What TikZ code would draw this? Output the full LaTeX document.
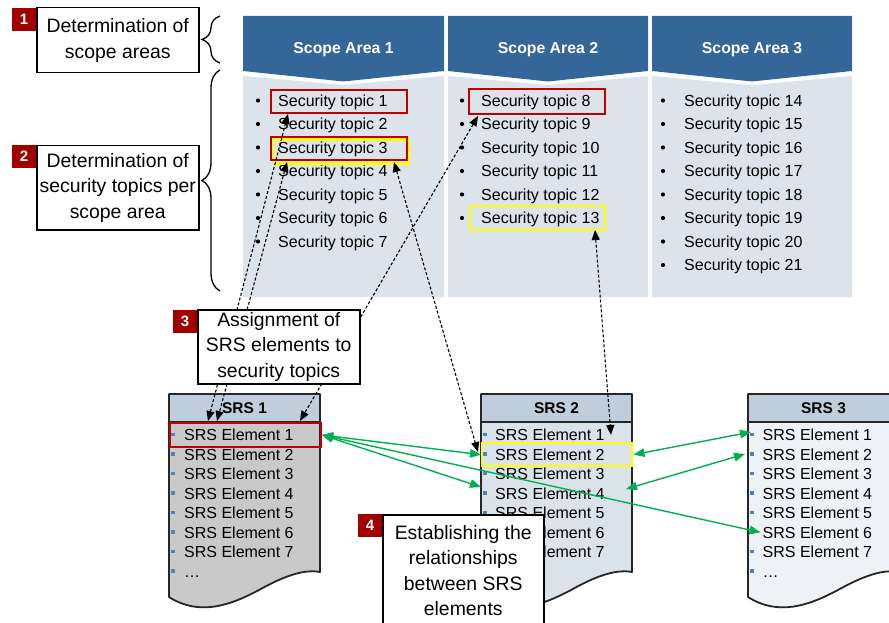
\documentclass[tikz,border=0pt]{standalone}
\usepackage{fontspec}
\setmainfont{Liberation Sans}
\usetikzlibrary{arrows.meta,decorations.pathreplacing}

\definecolor{scopeblue}{HTML}{35669A}
\definecolor{scopebody}{HTML}{DDE3EA}
\definecolor{hlred}{HTML}{C00000}
\definecolor{tagred}{HTML}{A00000}
\definecolor{hlyellow}{HTML}{FFFF00}
\definecolor{linkgreen}{HTML}{00B050}
\definecolor{srshead}{HTML}{C0CDDA}
\definecolor{srsgray}{HTML}{C9C9C9}
\definecolor{srsblue}{HTML}{DAE2EA}
\definecolor{srspale}{HTML}{EEF2F6}
\definecolor{srsbullet}{HTML}{4F81BD}

% one SRS document: header band, body with wavy bottom edge
\newcommand\srsdocument[2]{%
  \begin{scope}[shift={(#1,394)}]
    \fill[#2] (0,28) -- (151,28) -- (151,178)
      .. controls (135,175) and (115,182) .. (90,196)
      .. controls (60,212) and (30,222) .. (0,203) -- cycle;
    \fill[srshead] (0,0) rectangle (151,28);
    \draw[line width=1.8pt, line join=round, draw=black!85] (0,0) -- (151,0) -- (151,178)
      .. controls (135,175) and (115,182) .. (90,196)
      .. controls (60,212) and (30,222) .. (0,203) -- cycle;
    \draw[line width=1.8pt, draw=black!85] (0,28) -- (151,28);
  \end{scope}}

\begin{document}
\begin{tikzpicture}[x=1pt,y=-1pt,
  topic/.style={anchor=base west, inner sep=0pt, font=\fontsize{16}{19}\selectfont},
  elem/.style={anchor=base west, inner sep=0pt, font=\fontsize{16}{19}\selectfont},
  headtext/.style={anchor=base, inner sep=0pt, text=white, font=\bfseries\fontsize{15.8}{19}\selectfont},
  srstitle/.style={anchor=base, inner sep=0pt, font=\bfseries\fontsize{15.5}{19}\selectfont},
  labelbox/.style={draw=black, line width=1.5pt, fill=white, align=center, inner sep=0pt,
    anchor=north west, font=\fontsize{19.4}{25.5}\selectfont},
  tag/.style={fill=tagred, text=white, inner sep=0pt, minimum width=23.5pt, minimum height=23pt,
    anchor=north east, font=\bfseries\fontsize{15}{15}\selectfont},
  redhl/.style={draw=hlred, line width=2pt, inner sep=0pt, anchor=north west},
  yellowhl/.style={draw=hlyellow, line width=2.4pt, inner sep=0pt, anchor=north west},
  assign/.style={draw=black, line width=1.1pt, dash pattern=on 3pt off 2pt,
    {Triangle[length=10pt,width=8pt]}-{Triangle[length=10pt,width=8pt]}},
  relate/.style={draw=linkgreen, line width=1.4pt,
    {Triangle[length=11pt,width=8.5pt]}-{Triangle[length=11pt,width=8.5pt]}},
  bracemark/.style={draw=black, line width=1.3pt, decorate,
    decoration={brace, amplitude=18pt, aspect=0.5}}
]
\useasboundingbox (0,0) rectangle (889,623);

% ---- scope area columns ----
\foreach \xl/\xm/\xr/\k in {243/343.5/444/1, 448/548/648/2, 652/752/852/3} {
  \fill[scopeblue] (\xl,16) -- (\xr,16) -- (\xr,71) -- (\xm,81.5) -- (\xl,71) -- cycle;
  \fill[scopebody] (\xl,76) -- (\xm,85) -- (\xr,76) -- (\xr,297) -- (\xl,297) -- cycle;
  \node[headtext] (area\k) at (\xm,53.3) {Scope Area \k};
}

% ---- security topics ----
\foreach \n [count=\r from 0] in {1,...,7} {
  \fill (258,{100.5+23.5*\r}) circle[radius=2.1pt];
  \node[topic] (t\n) at (278,{106.3+23.5*\r}) {Security topic \n};
}
\foreach \n [count=\r from 0] in {8,...,13} {
  \fill (462,{100.5+23.5*\r}) circle[radius=2.1pt];
  \node[topic] (t\n) at (481,{106.3+23.5*\r}) {Security topic \n};
}
\foreach \n [count=\r from 0] in {14,...,21} {
  \fill (663,{100.5+23.5*\r}) circle[radius=2.1pt];
  \node[topic] (t\n) at (684,{106.3+23.5*\r}) {Security topic \n};
}

% highlighted topics
\node[yellowhl, minimum width=135pt, minimum height=24pt] (hl3y) at (273,138.5) {};
\node[redhl, minimum width=136pt, minimum height=23pt] (hl1) at (270,89.5) {};
\node[redhl, minimum width=136pt, minimum height=23pt] (hl3r) at (270,136) {};
\node[redhl, minimum width=136pt, minimum height=25pt] (hl8) at (468,88) {};
\node[yellowhl, minimum width=135pt, minimum height=24pt] (hl13) at (469,205) {};

% ---- SRS documents ----
\srsdocument{169}{srsgray}
\srsdocument{481}{srsblue}
\srsdocument{748}{srspale}
\node[srstitle] (srs1) at (244.5,413.6) {SRS 1};
\node[srstitle] (srs2) at (556.5,413.6) {SRS 2};
\node[srstitle] (srs3) at (823.5,413.6) {SRS 3};

\foreach \s/\bx/\tx in {1/173/184, 2/485/495, 3/752/762.5} {
  \foreach \i in {1,...,7} {
    \fill[srsbullet] (\bx,{434.3+19.5*(\i-1)}) ++(-1.8,-1.8) rectangle ++(3.6,3.6);
    \node[elem] (s\s e\i) at (\tx,{440.6+19.5*(\i-1)}) {SRS Element \i};
  }
}
\foreach \s/\bx/\tx in {1/173/184, 3/752/762.5} {
  \fill[srsbullet] (\bx,570.8) ++(-1.8,-1.8) rectangle ++(3.6,3.6);
  \node[elem] (s\s more) at (\tx,577) {\ldots};
}

% highlighted SRS elements
\node[redhl, minimum width=151pt, minimum height=24pt] (s1hl) at (169,422) {};
\node[yellowhl, minimum width=150pt, minimum height=23pt] (s2hl) at (481,442) {};

% ---- assignment links (dashed) ----
\coordinate (hl1foot) at (288,114);
\coordinate (hl3foot) at (287,162);
\coordinate (hl3tail) at (394,162);
\coordinate (hl8foot) at (478,116);
\coordinate (hl13foot) at (595,230);
\coordinate (srs1inA) at (208,421);
\coordinate (srs1inB) at (217,421);
\coordinate (srs1inC) at (300,421);
\coordinate (srs2inA) at (478,452);
\coordinate (srs2inB) at (611,435);
\draw[assign] (hl1foot) -- (srs1inA);
\draw[assign] (hl3foot) -- (srs1inB);
\draw[assign] (hl8foot) -- (srs1inC);
\draw[assign] (hl3tail) -- (srs2inA);
\draw[assign] (hl13foot) -- (srs2inB);

% ---- step labels 1-3 ----
\node[labelbox, minimum width=162pt, minimum height=65pt] (step1) at (36,7) {Determination of\\scope areas};
\node[tag] (tag1) at (36,8) {1};
\node[labelbox, minimum width=162pt, minimum height=84pt] (step2) at (36,145) {Determination of\\security topics per\\scope area};
\node[tag] (tag2) at (36,145) {2};
\node[labelbox, minimum width=162pt, minimum height=74pt] (step3) at (197,309) {Assignment of\\SRS elements to\\security topics};
\node[tag] (tag3) at (197,309.5) {3};

\draw[bracemark] (220,63) -- (220,16);
\draw[bracemark] (220,291) -- (220,70);

% ---- relationships between SRS elements ----
\coordinate (s2e4in) at (481,487);
\coordinate (s3e1in) at (751,432);
\coordinate (s2e4out) at (626,489);
\coordinate (s3e2in) at (745,454);
\draw[relate] (s1hl.east) -- (s2hl.west);
\draw[relate] (s1hl.east) -- (s2e4in);
\draw[relate] (s1hl.east) -- ([xshift=-2pt]s3e6.west);
\draw[relate] (s2hl.east) -- (s3e1in);
\draw[relate] (s2e4out) -- (s3e2in);

% ---- step label 4 ----
\node[labelbox, minimum width=161pt, minimum height=112pt] (step4) at (382,514) {Establishing the\\relationships\\between SRS\\elements};
\node[tag] (tag4) at (382,514) {4};
\end{tikzpicture}
\end{document}
